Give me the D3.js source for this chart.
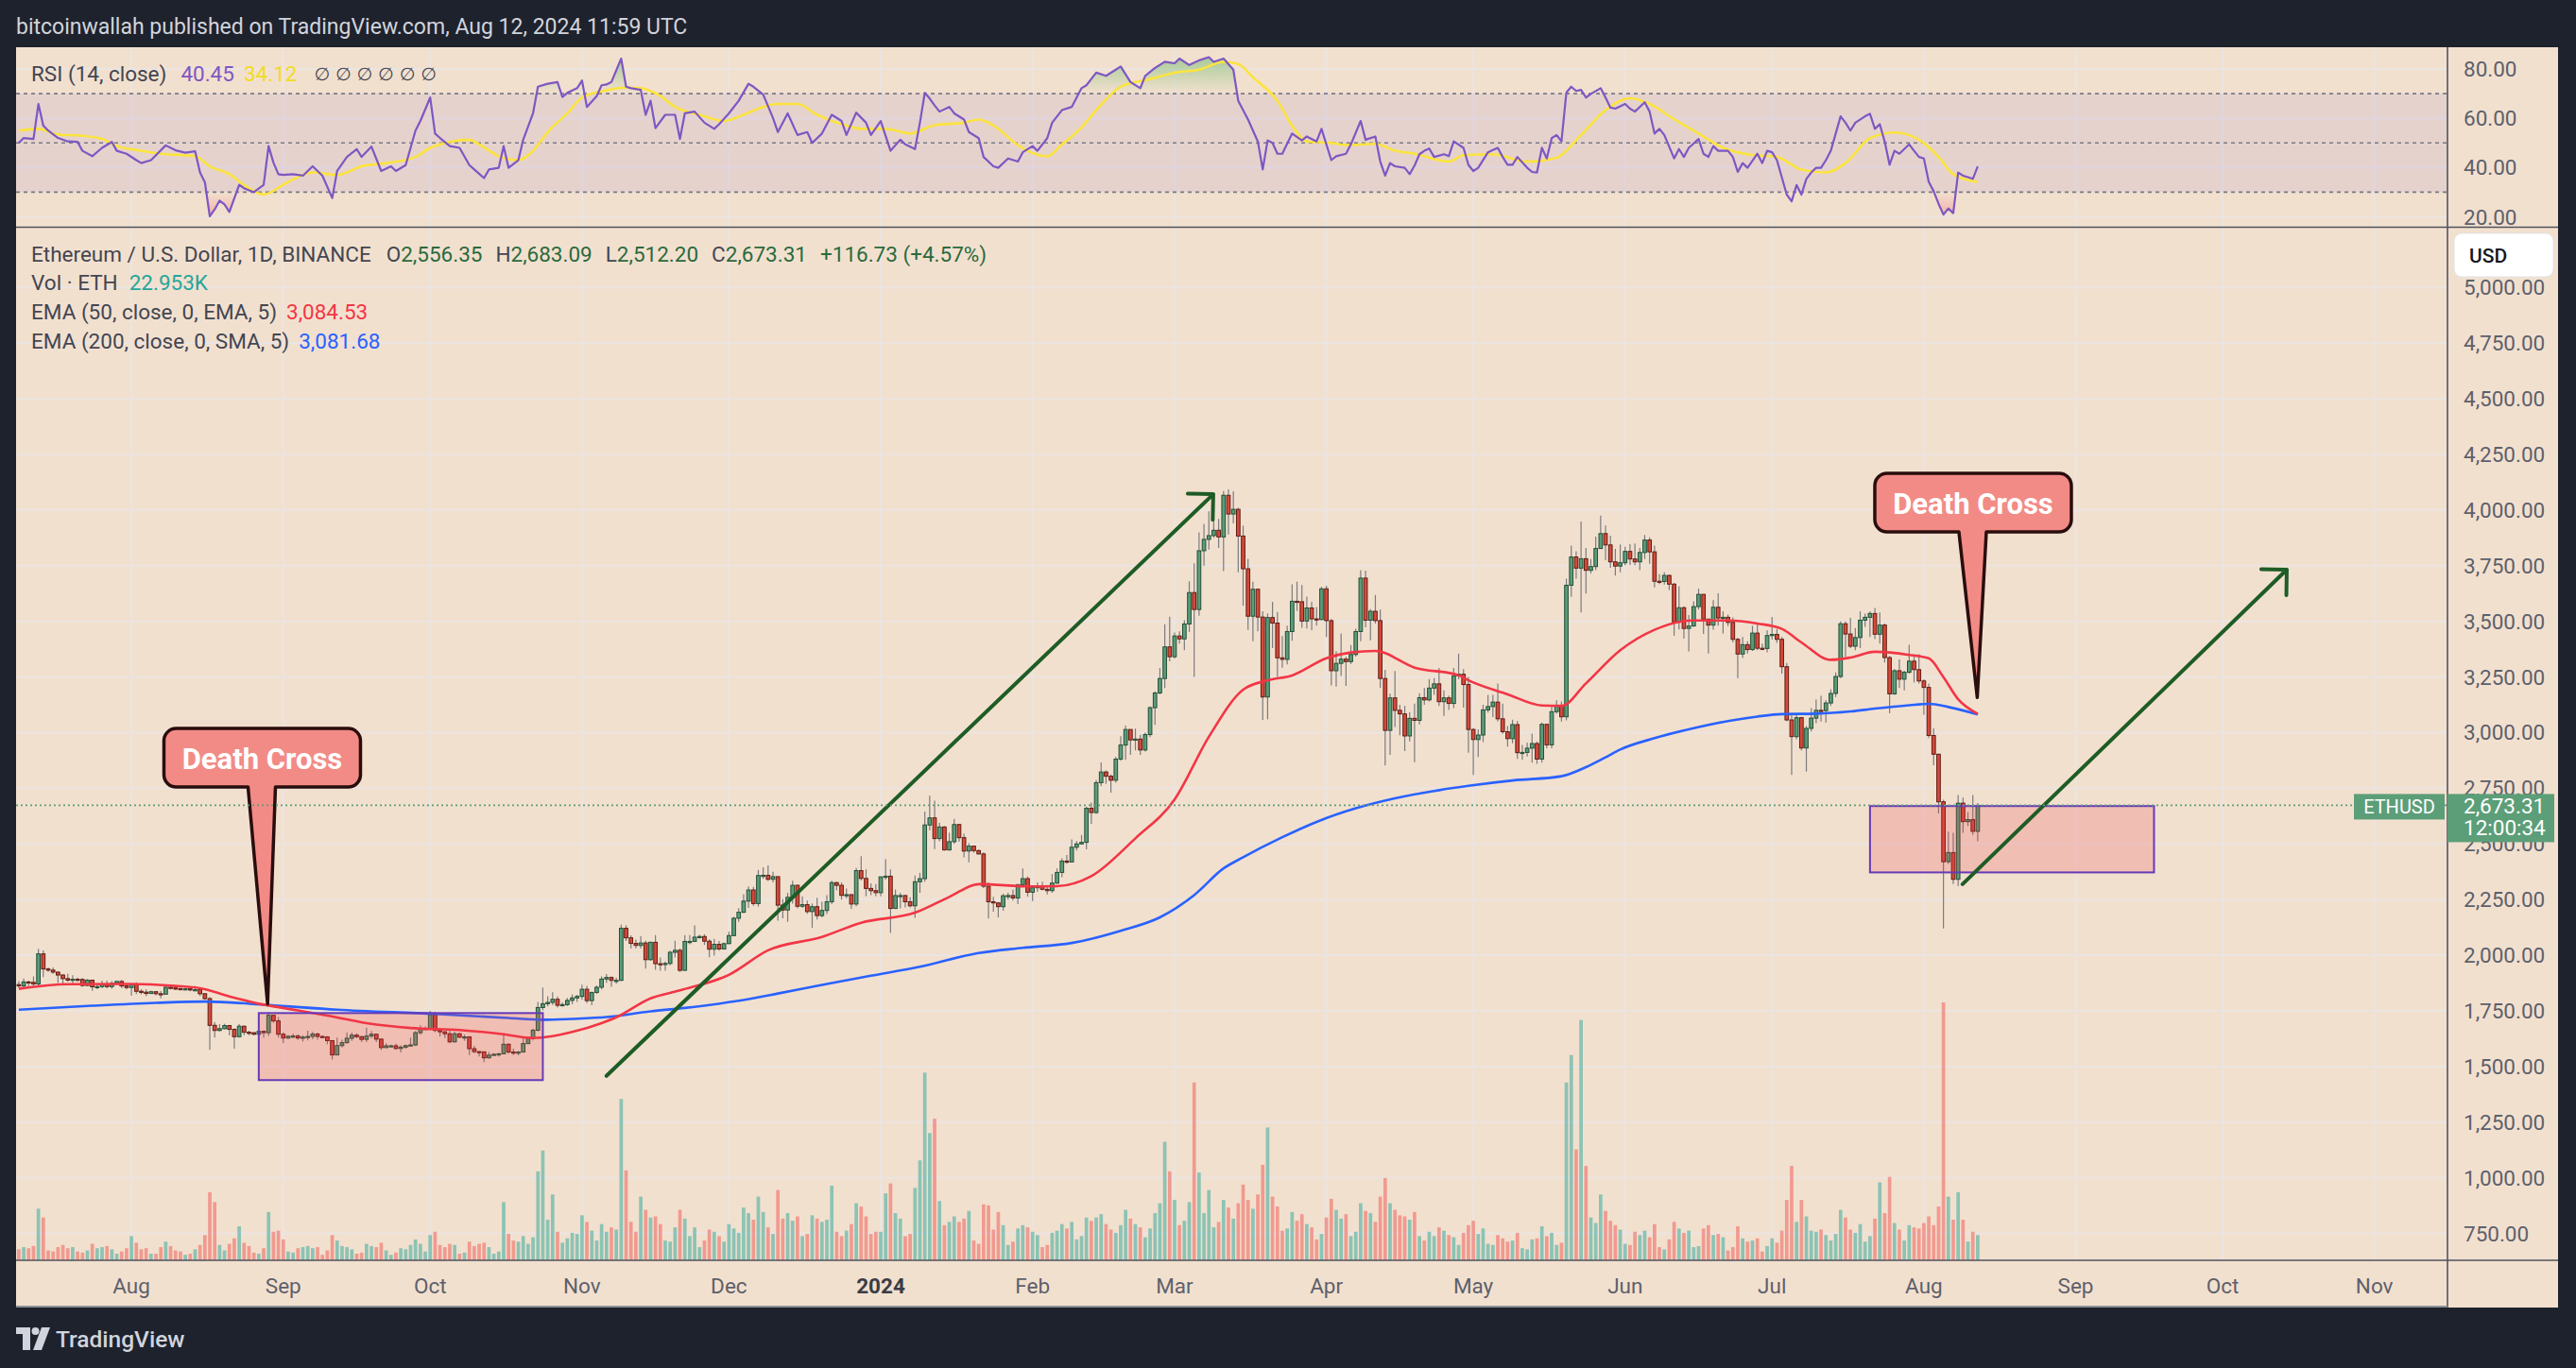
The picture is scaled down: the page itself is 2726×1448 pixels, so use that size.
<!DOCTYPE html>
<html>
<head>
<meta charset="utf-8">
<title>Ethereum / U.S. Dollar, 1D, BINANCE</title>
<script src="https://cdn.jsdelivr.net/npm/d3@7/dist/d3.min.js"></script>
<style>
  html, body { margin: 0; padding: 0; background: #1e222d; overflow: hidden; }
  svg { display: block; }
  text { font-family: Roboto, "Noto Sans", "DejaVu Sans", sans-serif; }
</style>
</head>
<body>
<div id="vis"></div>
<script>
/* global d3 */
// ---- values ---------------------------------------------------------------
// daily candles from 9 Jul 2023, each open is the previous close
var startDate = "2023-07-09";
var firstOpen = 1868;
var lastOpen = 2556.35;

var closes = [
  // Jul 2023 (9-31)
  1862,1880,1878,1871,2006,1938,1933,1924,1911,1895,1888,1892,1891,1864,1888,1858,1859,1870,1859,1873,1882,1862,1855,
  // Aug
  1868,1838,1834,1828,1836,1827,1825,1856,1853,1850,1847,1849,1845,1845,1827,1805,1685,1662,1670,1684,1667,1634,1681,1654,1652,1645,1658,1652,1730,1705,1645,
  // Sep
  1628,1636,1637,1628,1632,1635,1646,1635,1633,1616,1552,1594,1607,1627,1641,1634,1622,1637,1645,1623,1585,1593,1593,1581,1587,1594,1597,1652,1670,1671,
  // Oct
  1733,1662,1656,1647,1611,1647,1632,1633,1580,1567,1566,1539,1551,1555,1557,1600,1565,1563,1565,1603,1627,1663,1765,1782,1788,1802,1775,1778,1797,1808,1815,
  // Nov
  1847,1796,1833,1856,1893,1900,1887,1887,2121,2078,2053,2044,2055,1980,2058,1962,1960,1963,2013,2022,1932,2062,2062,2081,2084,2063,2027,2049,2028,2052,
  // Dec
  2088,2166,2193,2243,2293,2232,2358,2359,2341,2353,2225,2203,2260,2314,2220,2227,2196,2218,2178,2201,2240,2326,2314,2269,2272,2230,2380,2345,2300,2290,2281,
  // Jan 2024
  2352,2355,2210,2268,2268,2240,2222,2330,2344,2585,2617,2524,2576,2473,2510,2587,2528,2468,2490,2470,2455,2310,2240,2235,2218,2267,2268,2257,2317,2344,2283,
  // Feb
  2303,2309,2296,2290,2324,2372,2423,2419,2485,2500,2507,2660,2641,2775,2823,2804,2786,2881,2944,3014,2967,2971,2922,2991,3112,3178,3243,3385,3341,
  // Mar
  3434,3421,3488,3629,3553,3817,3868,3885,3909,3879,4066,3982,4003,3883,3736,3523,3644,3519,3160,3517,3492,3336,3329,3454,3590,3588,3501,3560,3511,3508,3646,
  // Apr
  3503,3278,3311,3330,3319,3351,3454,3694,3505,3545,3503,3243,3010,3156,3100,3084,2985,3064,3055,3157,3147,3200,3219,3139,3156,3131,3255,3262,3216,3014,
  // May
  2969,2989,3102,3117,3137,3062,3004,2973,3036,2910,2911,2930,2951,2881,3037,2945,3094,3121,3071,3662,3789,3739,3781,3729,3746,3827,3894,3843,3767,3748,3763,
  // Jun
  3814,3780,3767,3809,3865,3812,3680,3679,3706,3667,3497,3561,3468,3479,3566,3621,3510,3483,3563,3515,3518,3495,3419,3353,3395,3373,3447,3379,3378,3436,
  // Jul
  3441,3419,3296,3057,2982,3067,2931,3019,3065,3100,3099,3133,3176,3252,3489,3443,3388,3427,3505,3518,3535,3442,3483,3337,3174,3278,3240,3271,3321,3283,3232,
  // Aug (1-12)
  3203,2987,2903,2689,2420,2461,2341,2683,2600,2609,2556.58,2673.31
];

var highs = [
  1884,1895,1886,1905,2029,2022,1945,1945,1926,1915,1917,1910,1900,1897,1893,1890,1867,1886,1886,1884,1886,1889,1872,
  1872,1878,1847,1846,1840,1838,1839,1868,1867,1858,1854,1852,1853,1862,1847,1830,1812,1700,1690,1692,1686,1671,1691,1684,1661,1654,1664,1662,1745,1731,1722,
  1653,1641,1648,1645,1640,1661,1655,1652,1640,1636,1619,1630,1620,1652,1652,1649,1637,1675,1660,1647,1625,1604,1598,1602,1595,1598,1630,1660,1685,1680,
  1750,1746,1672,1659,1665,1656,1651,1643,1636,1593,1570,1567,1565,1560,1562,1644,1604,1580,1570,1630,1635,1670,1790,1855,1816,1834,1815,1788,1808,1824,1822,
  1868,1862,1836,1864,1905,1915,1905,1900,2137,2135,2089,2070,2085,2065,2062,2090,1990,1972,2020,2065,2030,2090,2090,2134,2092,2094,2071,2074,2064,2057,
  2105,2173,2211,2274,2309,2307,2383,2395,2404,2375,2350,2252,2280,2334,2318,2265,2245,2232,2258,2240,2270,2335,2330,2327,2300,2274,2392,2445,2386,2323,2320,
  2353,2431,2385,2295,2280,2270,2260,2358,2370,2645,2717,2694,2595,2580,2550,2613,2590,2546,2503,2490,2475,2462,2327,2262,2238,2276,2280,2295,2320,2390,2354,
  2310,2327,2330,2313,2365,2390,2435,2450,2520,2513,2540,2668,2686,2788,2866,2830,2812,2892,2984,3032,2994,3018,2990,3000,3118,3185,3290,3487,3521,
  3450,3455,3505,3680,3760,3900,3938,3994,3951,3960,4085,4093,4084,4010,3930,3781,3678,3615,3545,3535,3588,3542,3434,3480,3666,3678,3663,3611,3588,3564,3655,
  3660,3510,3366,3445,3340,3393,3467,3730,3728,3555,3618,3553,3282,3175,3277,3125,3120,3092,3130,3177,3200,3240,3245,3290,3190,3166,3290,3355,3285,3250,
  3020,3015,3125,3170,3170,3220,3130,3030,3058,3053,2945,2955,2996,2960,3045,3040,3120,3145,3140,3692,3840,3815,3948,3830,3780,3880,3975,3930,3885,3825,3845,
  3835,3848,3850,3830,3888,3877,3840,3712,3720,3710,3672,3658,3567,3528,3590,3647,3610,3503,3595,3626,3545,3530,3518,3425,3430,3410,3480,3490,3400,3460,
  3520,3465,3430,3313,3085,3080,3070,3030,3110,3148,3165,3145,3195,3270,3500,3500,3515,3470,3545,3535,3545,3560,3540,3490,3345,3285,3329,3278,3395,3340,3352,
  3240,3220,3020,2905,2698,2555,2550,2720,2708,2642,2720,2683.09
];

var lows = [
  1853,1850,1860,1858,1862,1902,1925,1917,1876,1872,1880,1874,1883,1858,1860,1840,1847,1852,1851,1850,1868,1852,1846,
  1818,1825,1824,1816,1826,1820,1806,1822,1846,1843,1842,1844,1838,1838,1817,1800,1575,1630,1658,1667,1640,1580,1630,1641,1640,1640,1642,1630,1637,1696,1630,
  1605,1624,1628,1620,1612,1617,1623,1620,1628,1600,1531,1550,1585,1603,1615,1627,1610,1610,1628,1610,1574,1583,1586,1575,1563,1580,1590,1592,1644,1665,
  1667,1655,1635,1628,1605,1607,1627,1616,1552,1560,1545,1520,1535,1547,1545,1555,1558,1552,1550,1564,1600,1617,1658,1752,1770,1776,1765,1770,1772,1780,1790,
  1800,1785,1775,1826,1846,1876,1858,1872,1885,2064,2030,2030,2030,1940,1975,1935,1930,1930,1955,1990,1925,1930,2049,2060,2075,2046,1991,1998,2020,2026,
  2050,2085,2150,2189,2212,2222,2218,2343,2333,2327,2155,2166,2150,2232,2210,2212,2186,2123,2160,2170,2185,2230,2292,2250,2255,2208,2220,2336,2265,2270,2265,
  2265,2340,2100,2208,2210,2215,2215,2168,2280,2330,2560,2477,2512,2470,2470,2500,2510,2440,2417,2460,2452,2302,2165,2195,2170,2200,2250,2245,2230,2314,2263,
  2243,2285,2292,2273,2280,2320,2350,2410,2418,2470,2498,2476,2590,2635,2760,2770,2730,2775,2873,2878,2900,2920,2900,2915,2980,3035,3172,3200,3320,
  3333,3400,3370,3452,3250,3525,3750,3822,3875,3830,3725,3890,3940,3720,3570,3461,3410,3455,3057,3060,3380,3250,3292,3306,3413,3547,3471,3468,3460,3480,3505,
  3430,3212,3207,3254,3210,3308,3341,3410,3473,3415,3490,3200,2852,2900,3025,2988,2917,2960,2867,3037,3125,3140,3170,3120,3075,3102,3110,3240,3112,2910,
  2810,2890,2958,3090,3070,3050,2995,2937,2952,2882,2878,2893,2865,2860,2865,2930,2930,3085,3050,3055,3610,3690,3540,3625,3715,3730,3825,3775,3740,3705,3720,
  3752,3753,3752,3730,3780,3758,3652,3667,3665,3640,3435,3463,3422,3365,3475,3553,3443,3355,3462,3480,3445,3478,3405,3245,3335,3355,3367,3370,3370,3360,
  3418,3403,3265,3051,2810,2970,2920,2825,3005,3042,3050,3045,3120,3160,3245,3340,3380,3370,3380,3475,3430,3420,3400,3315,3087,3170,3200,3190,3265,3225,3220,
  3080,2975,2853,2637,2120,2410,2320,2310,2550,2580,2540,2512.20
];

// volume, thousand ETH
var volumes = [
  10,12,11,13,47,39,9,8,12,14,11,12,8,7,9,15,11,12,13,10,6,8,11,
  22,16,10,11,6,6,12,17,13,9,8,5,6,10,14,23,62,53,14,9,15,20,31,16,13,7,6,11,44,26,27,
  19,8,7,11,12,13,11,12,5,9,23,18,13,12,10,6,7,15,13,12,16,9,5,7,11,10,14,19,15,8,
  23,26,14,12,15,14,6,7,17,13,15,16,12,6,8,53,24,18,17,22,15,21,81,100,37,60,26,16,20,25,24,
  41,35,27,18,33,26,30,28,147,82,35,26,58,46,39,40,33,18,17,30,46,38,22,30,12,18,28,26,22,17,
  33,29,25,48,43,37,58,44,30,24,64,38,43,36,40,22,24,41,38,35,37,68,26,22,27,33,52,49,40,24,26,
  26,61,70,43,38,22,24,66,91,171,116,129,54,32,35,40,35,38,45,18,15,51,50,28,44,32,14,17,29,32,30,
  26,23,12,14,25,27,33,29,35,19,22,39,36,39,42,33,28,25,32,46,38,33,30,21,29,43,52,108,81,
  55,32,36,53,162,80,43,64,30,35,55,48,38,52,69,55,47,60,87,121,58,49,27,29,44,36,42,33,30,19,24,
  39,56,46,38,42,22,26,52,45,43,35,58,75,52,46,41,40,37,44,22,18,26,22,30,27,23,21,14,25,32,
  36,24,29,15,14,23,20,17,18,25,11,10,19,20,31,22,25,14,16,162,187,101,219,86,39,34,60,45,36,32,28,
  15,14,26,23,27,21,33,12,10,19,35,29,25,27,12,13,29,32,23,24,21,9,12,31,20,17,18,20,8,13,
  20,16,27,55,86,35,55,40,27,26,28,23,18,24,46,39,28,25,33,17,22,38,71,43,76,34,28,18,32,30,29,
  34,40,32,49,235,58,37,62,37,17,26,22.953
];

// indicator lines as [day from startDate, value]
var ema50Pts = [[0,1849],[10,1870],[23,1871],[32,1862],[37,1852],[43,1815],[50,1778],[57,1752],[63,1729],[71,1695],[80,1673],[90,1664],[99,1645],[105,1628],[109,1636],[113,1655],[119,1695],[122,1721],[129,1806],[135,1842],[145,1912],[153,2022],[164,2082],[172,2146],[183,2191],[190,2262],[196,2319],[207,2309],[212,2310],[219,2355],[228,2525],[236,2700],[243,2981],[250,3193],[255,3235],[260,3257],[267,3334],[272,3360],[277,3367],[285,3292],[294,3257],[296,3235],[304,3172],[311,3122],[315,3120],[320,3221],[327,3370],[334,3462],[342,3504],[349,3504],[355,3490],[360,3466],[364,3405],[370,3327],[374,3337],[379,3363],[386,3349],[390,3334],[393,3249],[396,3150],[400,3084.53]];
var ema200Pts = [[0,1755],[15,1773],[28,1786],[38,1792],[51,1776],[65,1755],[85,1736],[100,1718],[107,1710],[113,1714],[120,1722],[129,1748],[136,1763],[146,1792],[155,1828],[164,1867],[174,1908],[184,1948],[196,2010],[205,2033],[215,2055],[225,2110],[233,2170],[240,2270],[246,2390],[250,2440],[258,2530],[265,2599],[273,2660],[281,2705],[289,2738],[296,2761],[305,2785],[315,2804],[320,2845],[324,2889],[327,2924],[334,2975],[342,3020],[349,3052],[355,3072],[360,3083],[367,3085],[374,3095],[379,3108],[386,3123],[390,3129],[394,3115],[400,3081.68]];

var rsiPts = [[0,50],[1,52],[3,51.6],[4,65.8],[5,57],[6,55],[8,52],[10,50.6],[12,50.4],[13,46.8],[15,44.6],[17,48],[19,50.4],[20,46.8],[22,45.6],[24,43],[25,41.8],[27,43],[30,49],[32,47],[34,46],[36,46.6],[37,38],[38,34],[39,20.2],[40,23],[41,26.6],[42,25],[43,22],[45,33],[46,31.6],[48,30],[50,33],[51,48.7],[52,42],[53,37.3],[54,37],[56,37.3],[58,36.7],[60,40.5],[62,36.7],[64,27.6],[65,38.6],[67,44.3],[69,47.5],[70,44.3],[72,48.5],[74,38.6],[76,40.5],[77,38.6],[79,41],[81,55],[82,58.9],[84,68.4],[85,53.8],[86,52],[88,48.7],[90,48],[92,41],[93,39.2],[95,35.7],[96,39.2],[98,39.9],[99,48.7],[100,39.9],[102,43],[103,51.3],[105,62],[106,72.8],[108,74],[110,74.7],[111,68.6],[112,70.3],[114,72.2],[115,75.3],[116,64.6],[118,69],[119,73.4],[120,73.7],[121,74.7],[123,84.2],[124,72.8],[125,72.2],[127,71.5],[128,61.4],[129,67.1],[130,56],[132,61.4],[134,61.4],[135,51.6],[136,62],[138,62.7],[140,58.2],[142,55.7],[143,57.6],[145,62],[147,67.1],[149,74],[150,72.8],[152,69.6],[154,60.1],[155,54.4],[157,62],[159,53.2],[161,54.4],[162,50],[164,53.8],[166,61.4],[168,58.9],[169,53.2],[171,62.3],[173,58.2],[174,53.2],[176,58.9],[178,46.8],[180,51.3],[181,49.4],[183,47.5],[184,58.2],[185,70.3],[186,68],[187,65.2],[188,62.7],[190,64.6],[191,62],[193,59.5],[194,54.4],[196,51.9],[197,44.3],[199,40.5],[200,39.9],[202,43.7],[204,42.4],[205,46.2],[207,48.7],[208,46.8],[210,51.9],[211,58.2],[213,63.3],[215,64.6],[217,72.2],[218,73.4],[220,78.5],[222,77.2],[224,79.7],[225,81],[227,74.7],[229,72.2],[230,77.2],[232,80.4],[234,82.9],[236,82.3],[237,84.2],[239,81.6],[241,83.5],[243,84.8],[244,82.9],[246,84.2],[248,79.7],[249,67.1],[251,59.5],[253,50.6],[254,39.2],[255,51],[256,50],[257,45.6],[258,45.6],[260,53.8],[262,51],[263,52.6],[265,50.6],[266,55.7],[268,43],[269,44.6],[271,45.6],[272,49.4],[274,58.9],[275,51.3],[277,52.6],[278,42.4],[279,36.7],[280,41.8],[281,40.5],[283,39.9],[284,37.3],[285,40.8],[286,45.4],[287,46.8],[288,47.7],[289,44.3],[291,45.4],[292,44.6],[293,50.6],[295,48],[296,41.1],[297,38.6],[298,39.9],[300,46.2],[301,47.1],[302,48],[303,44.3],[304,41.1],[305,41.1],[306,44.3],[308,39.9],[309,38.2],[310,38],[311,48],[312,43.7],[313,51.9],[314,53.2],[315,50.6],[316,70.4],[317,72.8],[318,71.1],[319,71.5],[320,68.4],[321,69.9],[323,72.2],[324,68.4],[325,64.3],[326,63.9],[328,65.8],[329,63.9],[330,62.7],[332,66.5],[333,62.7],[334,53.8],[335,55.7],[336,53.2],[338,43.7],[339,47.5],[340,44.3],[341,48],[343,51.6],[344,45.6],[345,44.3],[346,48.7],[347,46.8],[349,46.8],[350,44.3],[351,38.2],[352,41.8],[353,39.9],[355,45.6],[356,41.8],[357,46.8],[358,46.2],[359,43],[361,29],[362,26.3],[363,32.9],[364,29],[365,35.4],[366,38],[367,39.9],[368,39.9],[369,43],[370,46.8],[372,60.8],[373,58.2],[374,55],[375,58.2],[377,60.8],[378,61.8],[379,55.7],[380,57.6],[381,50.6],[382,41.1],[383,46.8],[384,45.6],[386,49.4],[387,46.8],[388,44.3],[389,43.7],[390,34.2],[391,30.4],[392,25.3],[393,20.9],[394,23.4],[395,21.5],[396,38],[397,36.7],[398,36.1],[399,35.4],[400,40.45]];
var rsiMaPts = [[0,55],[4,55.7],[8,53.4],[13,52.9],[17,51.6],[20,48.7],[24,47.1],[29,45.6],[36,44.6],[39,40.5],[43,37.3],[46,32.9],[50,29.1],[55,34.2],[60,38],[65,37],[70,40.5],[75,41.8],[81,44.3],[84,48],[88,50.4],[92,51.3],[94,49.4],[98,44.6],[102,43],[105,46.8],[108,54.4],[112,62],[115,68.4],[119,70.9],[124,72.4],[127,72.2],[131,69],[134,64.6],[139,61.4],[144,58.9],[148,61.4],[151,63.9],[155,65.8],[159,65.8],[163,61.4],[168,57.6],[172,55.7],[177,55.7],[182,53.8],[187,57.2],[193,58.2],[196,59.5],[200,55.7],[203,50.6],[206,46.8],[210,44.6],[213,49.4],[217,56.3],[220,63.3],[225,72.8],[231,75.9],[236,78.5],[241,79.7],[246,82.9],[249,82],[252,76.6],[257,67.1],[260,57],[263,50.6],[268,50],[271,49.1],[277,49.6],[281,46.8],[285,45.6],[292,42.4],[295,45],[301,45.4],[308,42.4],[314,44],[319,53.2],[324,63.3],[329,68.1],[333,65.8],[338,59.6],[343,53.8],[348,48],[353,45.4],[359,44.3],[364,39.2],[369,38],[373,41.8],[378,51.9],[383,54.2],[388,51.3],[392,44.3],[395,37.3],[400,34.12]];

// drawings: [day from startDate, price]
var rangeBoxes = [
  [[49, 1740], [107, 1439]],
  [[378, 2670], [436, 2372]]
];
var trendArrows = [
  [[120, 1458], [243.9, 4071]],
  [[396.9, 2319], [463.1, 3732]]
];
var callouts = [
  { text: "Death Cross", box: [49.7, 2887], tip: [50.8, 1781] },
  { text: "Death Cross", box: [399.05, 4033], tip: [399.9, 3158] }
];

var priceTicks = d3.range(750, 5001, 250);
var rsiTicks = [20, 40, 60, 80];

(function() {
  var W = 2726, H = 1448;
  var plotL = 17, plotR = 2590, axisR = 2707;
  var rsiTop = 50, rsiBot = 240, priceTop = 241, priceBot = 1334, chartBot = 1384;
  var dayW = 5.1825;
  var fs = "22.5px";

  var C = {
    frame: "#1e222d", bg: "#f2e0cf", grid: "#ebe4e1", sep: "#50535c",
    axisText: "#5d606b", legend: "#434651",
    up: "#5c9c7a", upLine: "#234f36", down: "#d6493a", downLine: "#5e1d14", wick: "#7b7b7e",
    volUp: "rgba(38,166,154,0.5)", volDown: "rgba(239,83,80,0.5)",
    ema50: "#f23645", ema200: "#2962ff", rsi: "#7e57c2", rsiMa: "#fbe43d",
    label: "#5c9e78", drawing: "#1e5c25"
  };

  if (highs.length !== closes.length || lows.length !== closes.length || volumes.length !== closes.length) {
    console.warn("series lengths differ", closes.length, highs.length, lows.length, volumes.length);
  }

  var x = d3.scaleUtc()
    .domain([Date.UTC(2023, 7, 1), Date.UTC(2024, 7, 1)])
    .range([139.1, 139.1 + 366 * dayW]);
  var y = d3.scaleLinear().domain([750, 5000]).range([1305.6, 304.2]);
  var yRsi = d3.scaleLinear().domain([20, 80]).range([229.5, 73]);
  var yVol = d3.scaleLinear().domain([0, 235]).range([priceBot, priceBot - 273]);

  var t0 = Date.parse(startDate + "T00:00:00Z");
  function xd(d) { return x(new Date(t0 + d * 864e5)); }

  var bars = closes.map(function(c, i) {
    var o = i === 0 ? firstOpen : (i === closes.length - 1 ? lastOpen : closes[i - 1]);
    return { i: i, o: o, c: c, h: Math.max(highs[i], o, c), l: Math.min(lows[i], o, c), v: volumes[i] };
  });
  var last = bars[bars.length - 1];

  var svg = d3.select("#vis").append("svg").attr("width", W).attr("height", H);
  var defs = svg.append("defs");

  defs.append("clipPath").attr("id", "clipPrice").append("rect")
    .attr("x", plotL).attr("y", priceTop).attr("width", plotR - plotL).attr("height", priceBot - priceTop);
  defs.append("clipPath").attr("id", "clipRsi").append("rect")
    .attr("x", plotL).attr("y", rsiTop).attr("width", plotR - plotL).attr("height", rsiBot - rsiTop);
  defs.append("clipPath").attr("id", "clipOb").append("rect")
    .attr("x", plotL).attr("y", rsiTop).attr("width", plotR - plotL).attr("height", yRsi(70) - rsiTop);
  defs.append("clipPath").attr("id", "clipOs").append("rect")
    .attr("x", plotL).attr("y", yRsi(30)).attr("width", plotR - plotL).attr("height", rsiBot - yRsi(30));

  function gradient(id, color, from, to) {
    var g = defs.append("linearGradient").attr("id", id).attr("gradientUnits", "userSpaceOnUse")
      .attr("x1", 0).attr("x2", 0).attr("y1", yRsi(from)).attr("y2", yRsi(to));
    g.append("stop").attr("offset", 0).attr("stop-color", color).attr("stop-opacity", 0);
    g.append("stop").attr("offset", 1).attr("stop-color", color).attr("stop-opacity", 0.9);
  }
  gradient("obFill", "#4caf50", 70, 100);
  gradient("osFill", "#f23645", 30, 0);

  // frame, header, panel
  svg.append("rect").attr("width", W).attr("height", H).attr("fill", C.frame);
  svg.append("text").attr("x", 17).attr("y", 28).attr("dominant-baseline", "central")
    .attr("fill", "#d1d4dc").style("font-size", "23px")
    .text("bitcoinwallah published on TradingView.com, Aug 12, 2024 11:59 UTC");
  svg.append("rect").attr("x", plotL).attr("y", rsiTop).attr("width", axisR - plotL)
    .attr("height", chartBot - rsiTop).attr("fill", C.bg);

  // grid
  var months = d3.utcMonth.range(new Date(Date.UTC(2023, 7, 1)), new Date(Date.UTC(2024, 11, 1)));
  var grid = svg.append("g").attr("stroke", C.grid).attr("stroke-width", 2);
  grid.selectAll(".vg").data(months).enter().append("line")
    .attr("x1", function(d) { return x(d); }).attr("x2", function(d) { return x(d); })
    .attr("y1", rsiTop).attr("y2", priceBot);
  grid.selectAll(".hg").data(priceTicks).enter().append("line")
    .attr("x1", plotL).attr("x2", plotR)
    .attr("y1", function(d) { return y(d); }).attr("y2", function(d) { return y(d); });
  grid.selectAll(".rg").data(rsiTicks).enter().append("line")
    .attr("x1", plotL).attr("x2", plotR)
    .attr("y1", function(d) { return yRsi(d); }).attr("y2", function(d) { return yRsi(d); });

  // RSI pane
  var rsiG = svg.append("g").attr("clip-path", "url(#clipRsi)");
  rsiG.append("rect").attr("x", plotL).attr("width", plotR - plotL)
    .attr("y", yRsi(70)).attr("height", yRsi(30) - yRsi(70)).attr("fill", "rgba(126,87,194,0.1)");
  rsiG.selectAll(".lvl").data([70, 50, 30]).enter().append("line")
    .attr("x1", plotL).attr("x2", plotR)
    .attr("y1", function(d) { return yRsi(d); }).attr("y2", function(d) { return yRsi(d); })
    .attr("stroke", "#787b86").attr("stroke-width", 1.6).attr("stroke-dasharray", "4 4");

  var rsiLine = d3.line().x(function(d) { return xd(d[0]); }).y(function(d) { return yRsi(d[1]); });
  rsiG.append("path").datum(rsiPts).attr("clip-path", "url(#clipOb)").attr("fill", "url(#obFill)")
    .attr("d", d3.area().x(function(d) { return xd(d[0]); }).y0(yRsi(70)).y1(function(d) { return yRsi(d[1]); }));
  rsiG.append("path").datum(rsiPts).attr("clip-path", "url(#clipOs)").attr("fill", "url(#osFill)")
    .attr("d", d3.area().x(function(d) { return xd(d[0]); }).y0(yRsi(30)).y1(function(d) { return yRsi(d[1]); }));
  rsiG.append("path").datum(rsiMaPts).attr("fill", "none").attr("stroke", C.rsiMa).attr("stroke-width", 2.6)
    .attr("d", rsiLine.curve(d3.curveMonotoneX));
  rsiG.append("path").datum(rsiPts).attr("fill", "none").attr("stroke", C.rsi).attr("stroke-width", 2.2)
    .attr("stroke-linejoin", "round").attr("d", rsiLine.curve(d3.curveLinear));

  // price pane
  var pg = svg.append("g").attr("clip-path", "url(#clipPrice)");
  var bodyW = 3.7;

  pg.selectAll(".vol").data(bars).enter().append("rect")
    .attr("x", function(d) { return xd(d.i) - bodyW / 2; })
    .attr("width", bodyW)
    .attr("y", function(d) { return yVol(d.v); })
    .attr("height", function(d) { return priceBot - yVol(d.v); })
    .attr("fill", function(d) { return d.c >= d.o ? C.volUp : C.volDown; });

  var candle = pg.selectAll(".candle").data(bars).enter().append("g");
  candle.append("line")
    .attr("x1", function(d) { return xd(d.i); }).attr("x2", function(d) { return xd(d.i); })
    .attr("y1", function(d) { return y(d.h); }).attr("y2", function(d) { return y(d.l); })
    .attr("stroke", C.wick).attr("stroke-width", 1.2);
  candle.append("rect")
    .attr("x", function(d) { return xd(d.i) - bodyW / 2; })
    .attr("width", bodyW)
    .attr("y", function(d) { return y(Math.max(d.o, d.c)); })
    .attr("height", function(d) { return Math.max(1.2, Math.abs(y(d.o) - y(d.c))); })
    .attr("fill", function(d) { return d.c >= d.o ? C.up : C.down; })
    .attr("stroke", function(d) { return d.c >= d.o ? C.upLine : C.downLine; })
    .attr("stroke-width", 1);

  var emaLine = d3.line().curve(d3.curveMonotoneX)
    .x(function(d) { return xd(d[0]); }).y(function(d) { return y(d[1]); });
  pg.append("path").datum(ema200Pts).attr("fill", "none").attr("stroke", C.ema200).attr("stroke-width", 2.6).attr("d", emaLine);
  pg.append("path").datum(ema50Pts).attr("fill", "none").attr("stroke", C.ema50).attr("stroke-width", 2.6).attr("d", emaLine);

  // drawings
  pg.selectAll(".box").data(rangeBoxes).enter().append("rect")
    .attr("x", function(d) { return xd(d[0][0]); })
    .attr("y", function(d) { return y(d[0][1]); })
    .attr("width", function(d) { return xd(d[1][0]) - xd(d[0][0]); })
    .attr("height", function(d) { return y(d[1][1]) - y(d[0][1]); })
    .attr("fill", "rgba(242,54,69,0.2)").attr("stroke", "#673ab7").attr("stroke-width", 2);

  trendArrows.forEach(function(a) {
    var x1 = xd(a[0][0]), y1 = y(a[0][1]), x2 = xd(a[1][0]), y2 = y(a[1][1]);
    var ang = Math.atan2(y2 - y1, x2 - x1), L = 27;
    var p1 = [x2 - L * Math.cos(ang - Math.PI / 4), y2 - L * Math.sin(ang - Math.PI / 4)];
    var p2 = [x2 - L * Math.cos(ang + Math.PI / 4), y2 - L * Math.sin(ang + Math.PI / 4)];
    pg.append("path")
      .attr("d", "M" + x1 + "," + y1 + "L" + x2 + "," + y2 + "M" + p1 + "L" + x2 + "," + y2 + "L" + p2)
      .attr("fill", "none").attr("stroke", C.drawing).attr("stroke-width", 4)
      .attr("stroke-linecap", "round").attr("stroke-linejoin", "round");
  });

  callouts.forEach(function(c) {
    var cx = xd(c.box[0]), cy = y(c.box[1]), w = 208, h = 62, r = 13;
    var tx = xd(c.tip[0]), ty = y(c.tip[1]);
    var l = cx - w / 2, rr = cx + w / 2, t = cy - h / 2, b = cy + h / 2;
    var d = "M" + (l + r) + "," + t + "H" + (rr - r) +
      "A" + r + "," + r + " 0 0 1 " + rr + "," + (t + r) + "V" + (b - r) +
      "A" + r + "," + r + " 0 0 1 " + (rr - r) + "," + b +
      "H" + (cx + 14) + "L" + tx + "," + ty + "L" + (cx - 15) + "," + b +
      "H" + (l + r) + "A" + r + "," + r + " 0 0 1 " + l + "," + (b - r) + "V" + (t + r) +
      "A" + r + "," + r + " 0 0 1 " + (l + r) + "," + t + "Z";
    svg.append("path").attr("d", d).attr("fill", "#f28b86")
      .attr("stroke", "#2a0d0d").attr("stroke-width", 3.5).attr("stroke-linejoin", "round");
    svg.append("text").attr("x", cx).attr("y", cy + 1).attr("text-anchor", "middle")
      .attr("dominant-baseline", "central").attr("fill", "#fff")
      .style("font-size", "31px").style("font-weight", 700).text(c.text);
  });

  // last price line
  svg.append("line").attr("x1", plotL).attr("x2", plotR)
    .attr("y1", y(last.c)).attr("y2", y(last.c))
    .attr("stroke", C.label).attr("stroke-width", 1.6).attr("stroke-dasharray", "2 3");

  // separators
  var sep = svg.append("g").attr("stroke", C.sep).attr("stroke-width", 1.6);
  sep.append("line").attr("x1", plotL).attr("x2", axisR).attr("y1", rsiBot + 0.5).attr("y2", rsiBot + 0.5);
  sep.append("line").attr("x1", plotL).attr("x2", axisR).attr("y1", priceBot).attr("y2", priceBot);
  sep.append("line").attr("x1", plotR).attr("x2", plotR).attr("y1", rsiTop).attr("y2", chartBot);
  svg.append("line").attr("x1", plotL).attr("x2", plotR).attr("y1", chartBot - 1).attr("y2", chartBot - 1)
    .attr("stroke", "#8d8f96").attr("stroke-width", 2);

  // axes
  var fmt = d3.format(",.2f");
  var ax = svg.append("g").attr("fill", C.axisText).style("font-size", fs);
  ax.selectAll(".pt").data(priceTicks).enter().append("text")
    .attr("x", 2607).attr("y", function(d) { return y(d); })
    .attr("dominant-baseline", "central").text(function(d) { return fmt(d); });
  ax.selectAll(".rt").data(rsiTicks).enter().append("text")
    .attr("x", 2607).attr("y", function(d) { return yRsi(d); })
    .attr("dominant-baseline", "central").text(function(d) { return fmt(d); });
  ax.selectAll(".mt").data(months).enter().append("text")
    .attr("x", function(d) { return x(d); }).attr("y", 1361)
    .attr("text-anchor", "middle").attr("dominant-baseline", "central")
    .style("font-weight", function(d) { return d.getUTCMonth() === 0 ? 700 : 400; })
    .attr("fill", function(d) { return d.getUTCMonth() === 0 ? "#3a3d45" : C.axisText; })
    .text(function(d) { return d.getUTCMonth() === 0 ? d.getUTCFullYear() : d3.utcFormat("%b")(d); });

  // currency button
  svg.append("rect").attr("x", 2597).attr("y", 247).attr("width", 105).attr("height", 46).attr("rx", 8)
    .attr("fill", "#fff").attr("stroke", "#e0e3eb");
  svg.append("text").attr("x", 2613).attr("y", 271).attr("dominant-baseline", "central")
    .attr("fill", "#131722").style("font-size", "21px").style("font-weight", 500).text("USD");

  // last price labels
  var ly = y(last.c);
  svg.append("rect").attr("x", 2491).attr("y", ly - 12).attr("width", 96).attr("height", 27).attr("fill", C.label);
  svg.append("text").attr("x", 2539).attr("y", ly + 1.5).attr("text-anchor", "middle").attr("dominant-baseline", "central")
    .attr("fill", "#fff").style("font-size", "20px").text("ETHUSD");
  svg.append("rect").attr("x", plotR).attr("y", ly - 12).attr("width", 113).attr("height", 51).attr("fill", C.label);
  svg.append("text").attr("x", 2607).attr("y", ly + 0.5).attr("dominant-baseline", "central")
    .attr("fill", "#fff").style("font-size", fs).text(fmt(last.c));
  svg.append("text").attr("x", 2607).attr("y", ly + 23.5).attr("dominant-baseline", "central")
    .attr("fill", "#fff").style("font-size", fs).text("12:00:34");

  // legends
  function legend(yy, parts) {
    var t = svg.append("text").attr("x", 33).attr("y", yy).attr("dominant-baseline", "central")
      .style("font-size", fs);
    parts.forEach(function(p) {
      var s = t.append("tspan").attr("dx", p[2] || 0).attr("fill", p[1]).text(p[0]);
      if (p[3]) s.style("font-family", p[3]).style("font-size", "19px");
    });
  }
  var g = "#2b6a3c", prev = closes[closes.length - 2], chg = last.c - prev;
  legend(269, [
    ["Ethereum / U.S. Dollar, 1D, BINANCE", C.legend],
    ["O", C.legend, 16], [fmt(last.o), g],
    ["H", C.legend, 14], [fmt(last.h), g],
    ["L", C.legend, 14], [fmt(last.l), g],
    ["C", C.legend, 14], [fmt(last.c), g],
    [(chg >= 0 ? "+" : "") + fmt(chg) + " (" + (chg >= 0 ? "+" : "") + d3.format(".2f")(chg / prev * 100) + "%)", g, 14]
  ]);
  legend(299, [["Vol · ETH", C.legend], [d3.format(".3f")(last.v) + "K", "#26a69a", 12]]);
  legend(330, [["EMA (50, close, 0, EMA, 5)", C.legend], [fmt(ema50Pts[ema50Pts.length - 1][1]), C.ema50, 10]]);
  legend(361, [["EMA (200, close, 0, SMA, 5)", C.legend], [fmt(ema200Pts[ema200Pts.length - 1][1]), C.ema200, 10]]);
  var rsiParts = [
    ["RSI (14, close)", C.legend],
    [d3.format(".2f")(rsiPts[rsiPts.length - 1][1]), C.rsi, 15],
    [d3.format(".2f")(rsiMaPts[rsiMaPts.length - 1][1]), "#f2dc1d", 10]
  ];
  for (var k = 0; k < 6; k++) rsiParts.push(["\u2205", C.legend, k === 0 ? 18 : 6, "DejaVu Sans"]);
  legend(78, rsiParts);

  // footer logo
  var logo = svg.append("g").attr("fill", "#d1d4dc");
  logo.append("path").attr("d", "M17,1405H32V1429H24V1412H17Z");
  logo.append("circle").attr("cx", 37.5).attr("cy", 1409).attr("r", 4);
  logo.append("path").attr("d", "M44,1405H53L44,1429H35Z");
  svg.append("text").attr("x", 59).attr("y", 1417).attr("dominant-baseline", "central")
    .attr("fill", "#d1d4dc").style("font-size", "24.5px").style("font-weight", 500).text("TradingView");
}());
</script>
</body>
</html>
